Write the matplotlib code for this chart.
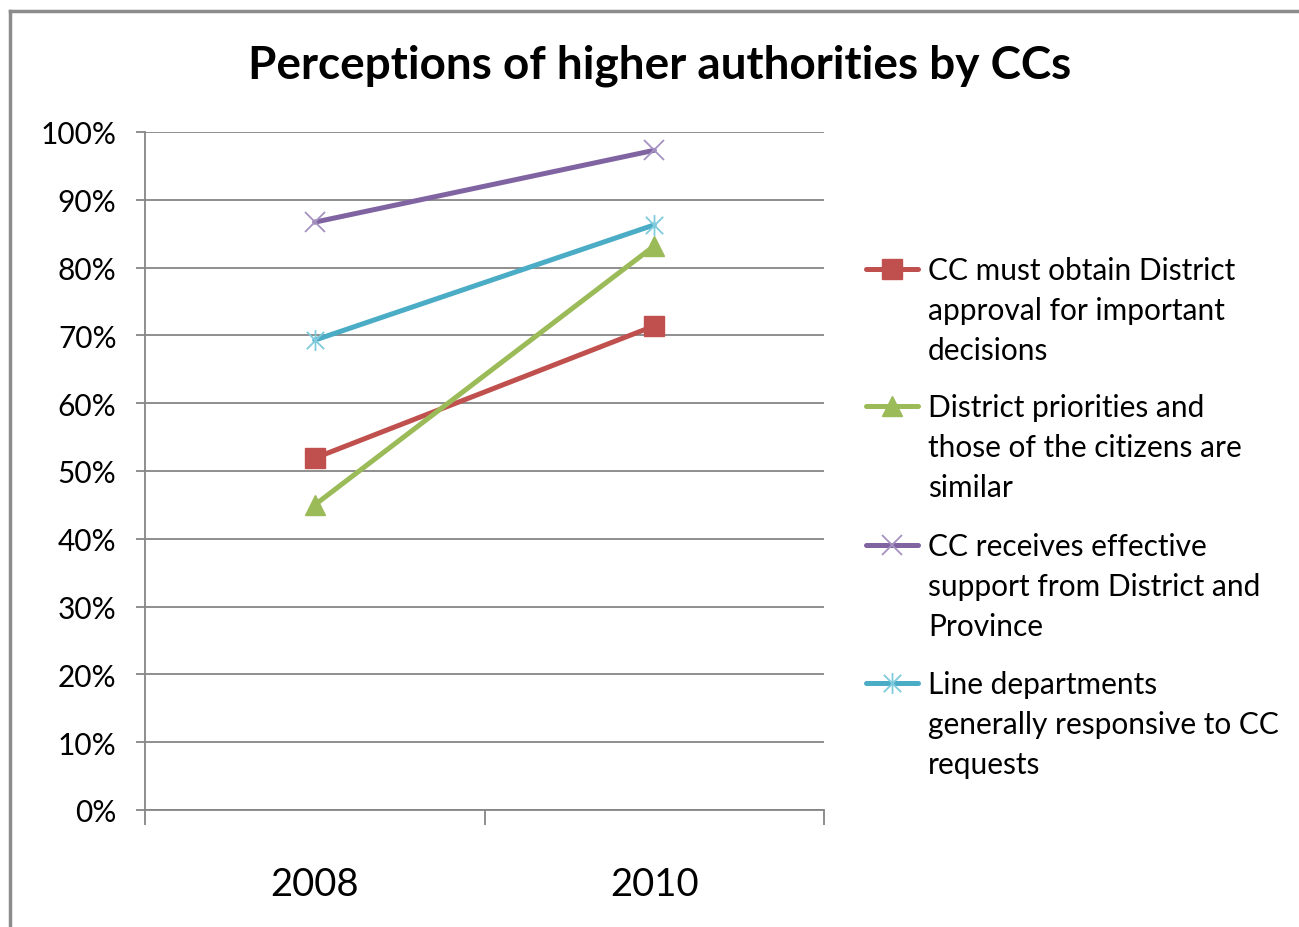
import numpy as np
import matplotlib.pyplot as plt
from matplotlib.path import Path
from matplotlib.lines import Line2D

plt.rcParams['font.family'] = ['Lato', 'DejaVu Sans']

years = ["2008", "2010"]
series = [
    "CC must obtain District\napproval for important\ndecisions",
    "District priorities and\nthose of the citizens are\nsimilar",
    "CC receives effective\nsupport from District and\nProvince",
    "Line departments\ngenerally responsive to CC\nrequests",
]
approval = [0.519, 0.714]
priorities = [0.450, 0.832]
support = [0.867, 0.973]
responsive = [0.693, 0.863]

colors = ["#C0504D", "#9BBB59", "#8064A2", "#4BACC6"]
marker_colors = ["#C0504D", "#9BBB59", "#A592C2", "#7FCBDD"]

# excel style "star": an x with a vertical bar through it
star = Path([(-1, -1), (1, 1), (-1, 1), (1, -1), (0, -1.2), (0, 1.2)],
            [Path.MOVETO, Path.LINETO, Path.MOVETO, Path.LINETO, Path.MOVETO, Path.LINETO])
markers = ["s", "^", "x", star]
msizes = [14, 14, 15, 15]

W, H = 1299, 928
fig = plt.figure(figsize=(W / 100, H / 100), dpi=100)
ax = fig.add_axes([145/W, 1 - 811/H, (824 - 145)/W, (811 - 133)/H])

x = np.arange(len(years))
styles = []
for vals, c, mc, m, ms in zip([approval, priorities, support, responsive],
                              colors, marker_colors, markers, msizes):
    st = dict(color=c, lw=3.6, marker=m, markersize=ms,
              markerfacecolor=mc, markeredgecolor=mc,
              markeredgewidth=1.3 if m in ("x", star) else 1)
    styles.append(st)
    ax.plot(x, vals, solid_capstyle="round", zorder=3, **st)

ax.set_xlim(-0.5, 1.5)
ax.set_ylim(0, 1)
yt = np.arange(0, 1.01, 0.1)
ax.set_yticks(yt)
ax.set_yticklabels([f"{int(round(v*100))}%" for v in yt], fontsize=21.5)
ax.yaxis.grid(True, color="#868686", lw=1.3)
ax.set_axisbelow(True)

ax.set_xticks([-0.5, 0.5, 1.5])
ax.set_xticklabels([])
ax.set_xticks(x, minor=True)
ax.set_xticklabels(years, minor=True, fontsize=27.5)
ax.tick_params(axis="x", which="major", length=11, width=1.3, color="#868686", direction="out")
ax.tick_params(axis="x", which="minor", length=0, pad=40)
ax.tick_params(axis="y", length=6.5, width=1.3, color="#868686", pad=14)

for s in ["top", "right"]:
    ax.spines[s].set_visible(False)
for s in ["left", "bottom"]:
    ax.spines[s].set_color("#868686")
    ax.spines[s].set_linewidth(1.3)

fig.text(660/W, 1 - 66/H, "Perceptions of higher authorities by CCs",
         ha="center", va="center", fontsize=33, fontweight="bold")

# legend laid out like excel: marker aligned with first line of each label
entry_y = [270, 407, 546, 684]
for lab, st, ey in zip(series, styles, entry_y):
    yy = 1 - ey/H
    fig.add_artist(Line2D([866/W, 918/W], [yy, yy], color=st["color"], lw=st["lw"],
                          solid_capstyle="round", transform=fig.transFigure))
    fig.add_artist(Line2D([892/W], [yy], linestyle="none", marker=st["marker"],
                          markersize=st["markersize"], markerfacecolor=st["markerfacecolor"],
                          markeredgecolor=st["markeredgecolor"],
                          markeredgewidth=st["markeredgewidth"], transform=fig.transFigure))
    fig.text(928/W, 1 - (ey - 13)/H, lab, ha="left", va="top", fontsize=21.5,
             linespacing=1.52)

# outer chart border (top and left edges visible)
fig.add_artist(Line2D([10/W, 10/W], [0, 1 - 12/H], color="#8C8C8C", lw=2.5,
                      transform=fig.transFigure))
fig.add_artist(Line2D([10/W, 1], [1 - 12/H, 1 - 12/H], color="#8C8C8C", lw=2.5,
                      transform=fig.transFigure))

fig.savefig("out.png", dpi=100)
